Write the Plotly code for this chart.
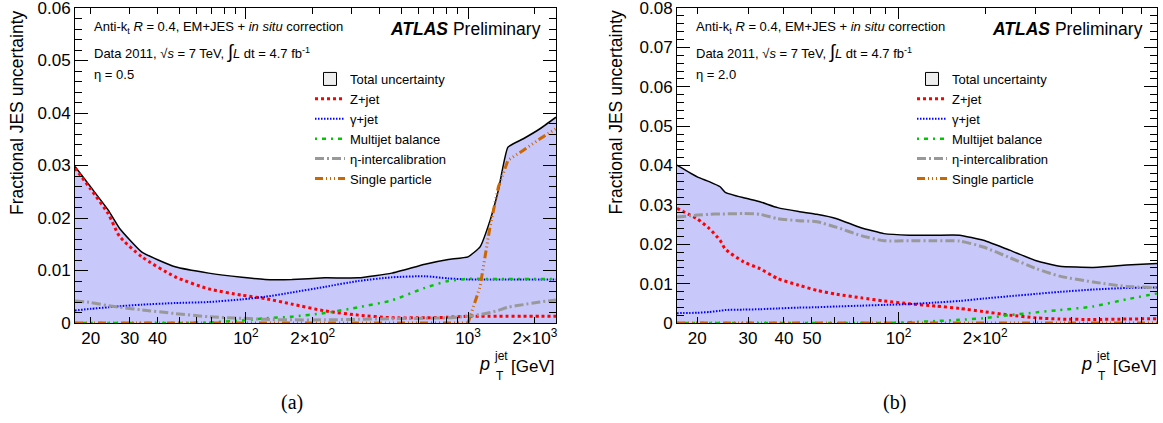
import math
import plotly.graph_objects as go

W, H = 1163, 423

# ---------------- data: panel (a) eta = 0.5 ----------------
pt_a = [17, 20, 24, 27, 34, 48, 68, 96, 122, 161, 227, 321, 453, 640, 815,
        1000, 1133, 1256, 1370, 1513, 1775, 2109, 2490]
total_a = [0.0298, 0.0259, 0.0215, 0.0180, 0.0135, 0.0107, 0.0095, 0.0087, 0.0083,
           0.0083, 0.0086, 0.0086, 0.0095, 0.0112, 0.0121, 0.0126, 0.0145, 0.0195,
           0.0253, 0.0335, 0.0351, 0.0370, 0.0392]
zjet_a = [0.0295, 0.0255, 0.0208, 0.0165, 0.0126, 0.0088, 0.0065, 0.0053, 0.00465,
          0.0036, 0.0023, 0.0015, 0.0010, 0.0010, 0.0011, 0.0013, 0.0013, 0.0013,
          0.0013, 0.0013, 0.0013, 0.0013, 0.0013]
gjet_a = [0.0024, 0.0027, 0.0030, 0.0032, 0.0035, 0.0038, 0.0040, 0.0045, 0.0050,
          0.0058, 0.0069, 0.0080, 0.0087, 0.0089, 0.0085, 0.0083, 0.0083, 0.0083,
          0.0083, 0.0083, 0.0083, 0.0083, 0.0083]
mj_a = [0, 0, 0, 0, 0, 0, 0.0001, 0.0005, 0.0009, 0.0012, 0.0019, 0.0030, 0.0043,
        0.0067, 0.0080, 0.0084, 0.0084, 0.0084, 0.0084, 0.0084, 0.0084, 0.0084, 0.0084]
eta_a = [0.0042, 0.0039, 0.0033, 0.0030, 0.0025, 0.0018, 0.0012, 0.0009, 0.0007,
         0.0006, 0.0006, 0.0007, 0.0008, 0.0009, 0.0010, 0.0013, 0.0016, 0.0020,
         0.0024, 0.0030, 0.0035, 0.0040, 0.0044]
sp_a = [0, 0, 0, 0, 0, 0, 0, 0, 0, 0, 0, 0, 0, 0, 0, 0, 0.0069, 0.0183, 0.0259,
        0.0310, 0.0329, 0.0351, 0.0370]

# ---------------- data: panel (b) eta = 2.0 ----------------
pt_b = [17, 20, 22, 24, 25, 29, 33, 38, 45, 52, 61, 74, 89, 109, 135, 163, 197,
        243, 301, 363, 474, 619, 790]
total_b = [0.0401, 0.0371, 0.0359, 0.0346, 0.0332, 0.0318, 0.0308, 0.0293, 0.0283,
           0.0276, 0.0265, 0.0242, 0.0227, 0.0223, 0.0223, 0.0223, 0.0210, 0.0185,
           0.0158, 0.0144, 0.0141, 0.0147, 0.0151]
zjet_b = [0.0291, 0.0264, 0.0240, 0.0210, 0.0188, 0.0155, 0.0138, 0.0113, 0.0096,
          0.0083, 0.0073, 0.0064, 0.0056, 0.0049, 0.0043, 0.0037, 0.0029, 0.0020,
          0.0013, 0.0010, 0.0009, 0.0010, 0.0011]
gjet_b = [0.0025, 0.0026, 0.0028, 0.0031, 0.0033, 0.0034, 0.0035, 0.0037, 0.0039,
          0.0040, 0.0042, 0.0044, 0.0046, 0.0048, 0.0052, 0.0056, 0.0062, 0.0068,
          0.0074, 0.0079, 0.0085, 0.0089, 0.0090]
mj_b = [0, 0, 0, 0, 0, 0, 0, 0, 0, 0, 0, 0, 0, 0.0002, 0.0005, 0.0008, 0.0012,
        0.0020, 0.0027, 0.0033, 0.0042, 0.0060, 0.0075]
eta_b = [0.0269, 0.0274, 0.0276, 0.0277, 0.0277, 0.0278, 0.0276, 0.0265, 0.0260,
         0.0257, 0.0243, 0.0222, 0.0209, 0.0209, 0.0209, 0.0208, 0.0193, 0.0166,
         0.0138, 0.0119, 0.0104, 0.0093, 0.0090]
sp_b = [0] * len(pt_b)

# tick labels
tickvals_a = [20, 30, 40, 50, 60, 70, 80, 90, 100, 200, 300, 400, 500, 600, 700, 800, 900, 1000, 2000]
ticktext_a = ["20", "30", "40", "", "", "", "", "", "10<sup>2</sup>", "2×10<sup>2</sup>",
              "", "", "", "", "", "", "", "10<sup>3</sup>", "2×10<sup>3</sup>"]
tickvals_b = [20, 30, 40, 50, 60, 70, 80, 90, 100, 200, 300, 400, 500, 600, 700]
ticktext_b = ["20", "30", "40", "50", "", "", "", "", "10<sup>2</sup>", "2×10<sup>2</sup>",
              "", "", "", "", ""]
decades = [100, 1000]

series_names = ["Z+jet", "γ+jet", "Multijet balance", "η-intercalibration", "Single particle"]
styles = [
    dict(color="#ff0000", width=3, dash="3px,3px"),
    dict(color="#0000ff", width=2, dash="1.5px,1.5px"),
    dict(color="#00c800", width=2.5, dash="2px,5px,4px,5px"),
    dict(color="#999999", width=3, dash="9px,3px,2px,3px"),
    dict(color="#cc6600", width=3, dash="8px,3px,1px,3px,1px,3px,1px,3px"),
]

FONT = "Liberation Sans, Arial, Helvetica, sans-serif"

fig = go.Figure()

def add_panel(xs, total, comps, xa, ya, legend):
    # legend-only entry for the total band (grey box in legend)
    fig.add_trace(go.Scatter(x=[None], y=[None], mode="markers",
                             marker=dict(symbol="square", size=13, color="#eeeeee",
                                         line=dict(color="black", width=1)),
                             name="Total uncertainty", xaxis=xa, yaxis=ya,
                             legend=legend, showlegend=True))
    fig.add_trace(go.Scatter(x=xs, y=total, mode="lines", fill="tozeroy",
                             fillcolor="rgb(200,200,250)",
                             line=dict(color="black", width=1.5, shape="spline", smoothing=0.4),
                             showlegend=False, xaxis=xa, yaxis=ya, hoverinfo="skip"))
    for name, st, ys in zip(series_names, styles, comps):
        shape = "linear" if name == "Single particle" else "spline"
        fig.add_trace(go.Scatter(x=xs, y=ys, mode="lines", name=name,
                                 line=dict(color=st["color"], width=st["width"],
                                           dash=st["dash"], shape=shape, smoothing=0.6),
                                 xaxis=xa, yaxis=ya, legend=legend))

add_panel(pt_a, total_a, [zjet_a, gjet_a, mj_a, eta_a, sp_a], "x", "y", "legend")
add_panel(pt_b, total_b, [zjet_b, gjet_b, mj_b, eta_b, sp_b], "x2", "y2", "legend2")

def fx(p):
    return p / W

def fy(p):
    return 1 - p / H

ytop, ybot = fy(8), fy(323)
dom_a = [fx(75), fx(556)]
dom_b = [fx(677), fx(1157)]

xcommon = dict(type="log", showline=True, linecolor="black", linewidth=1, mirror="ticks",
               ticks="inside", ticklen=6, tickcolor="black", tickwidth=1, showgrid=False,
               zeroline=False, tickmode="array", automargin=False, ticklabeloverflow="allow",
               tickfont=dict(family=FONT, size=17, color="black"))
ycommon = dict(showline=True, linecolor="black", linewidth=1, mirror="ticks",
               ticks="inside", ticklen=13, tickcolor="black", tickwidth=1, showgrid=False,
               zeroline=False, dtick=0.01, tick0=0, automargin=False, ticklabeloverflow="allow",
               minor=dict(dtick=0.002, ticklen=7, ticks="inside", tickcolor="black", showgrid=False),
               tickfont=dict(family=FONT, size=17, color="black"))

fig.update_layout(
    width=W, height=H, margin=dict(l=0, r=0, t=0, b=0, autoexpand=False),
    paper_bgcolor="white", plot_bgcolor="white",
    font=dict(family=FONT, color="black"),
    xaxis=dict(**xcommon, domain=dom_a, anchor="y",
               range=[math.log10(17), math.log10(2490)],
               tickvals=tickvals_a, ticktext=ticktext_a),
    yaxis=dict(**ycommon, domain=[ybot, ytop], anchor="x", range=[0, 0.0600001]),
    xaxis2=dict(**xcommon, domain=dom_b, anchor="y2",
                range=[math.log10(17), math.log10(790)],
                tickvals=tickvals_b, ticktext=ticktext_b),
    yaxis2=dict(**ycommon, domain=[ybot, ytop], anchor="x2", range=[0, 0.0800001]),
    # overlay axes for the longer decade ticks
    xaxis3=dict(type="log", overlaying="x", matches="x", anchor="y", ticks="inside",
                ticklen=11, tickcolor="black", mirror="ticks", showline=False,
                showgrid=False, zeroline=False, showticklabels=False, automargin=False,
                tickmode="array", tickvals=decades),
    xaxis4=dict(type="log", overlaying="x2", matches="x2", anchor="y2", ticks="inside",
                ticklen=11, tickcolor="black", mirror="ticks", showline=False,
                showgrid=False, zeroline=False, showticklabels=False, automargin=False,
                tickmode="array", tickvals=decades),
    legend=dict(x=fx(310), y=fy(64), xanchor="left", yanchor="top",
                bgcolor="rgba(0,0,0,0)", font=dict(family=FONT, size=13, color="black"),
                traceorder="normal", itemwidth=30),
    legend2=dict(x=fx(912), y=fy(64), xanchor="left", yanchor="top",
                 bgcolor="rgba(0,0,0,0)", font=dict(family=FONT, size=13, color="black"),
                 traceorder="normal", itemwidth=30),
)

# dummy traces so the overlay axes are drawn
fig.add_trace(go.Scatter(x=[None], y=[None], xaxis="x3", yaxis="y", showlegend=False))
fig.add_trace(go.Scatter(x=[None], y=[None], xaxis="x4", yaxis="y2", showlegend=False))

ann = []

def text(x, y, t, size=13, xanchor="left", yanchor="middle", family=FONT, angle=0):
    ann.append(dict(x=fx(x), y=fy(y), xref="paper", yref="paper", text=t, showarrow=False,
                    xanchor=xanchor, yanchor=yanchor, textangle=angle,
                    font=dict(family=family, size=size, color="black")))

for dx, eta_lbl, panel_lbl, ytitle_x in [(0, "η = 0.5", "(a)", 16.5), (602, "η = 2.0", "(b)", 615)]:
    text(92 + dx, 28, "Anti-k<sub>t</sub> <i>R</i> = 0.4, EM+JES + <i>in situ</i> correction")
    text(92 + dx, 52, "Data 2011, √<i>s</i> = 7 TeV, <span style='font-size:19px'>∫</span><i>L</i> dt = 4.7 fb<sup>-1</sup>")
    text(92 + dx, 74, eta_lbl)
    text(543 + dx, 29, "<b><i>ATLAS</i></b> Preliminary", size=17.5, xanchor="right")
    text(556 + dx, 366, "[GeV]", size=17, xanchor="right")
    text(492 + dx, 364, "<i>p</i>", size=18, xanchor="right")
    text(492 + dx, 356, "jet", size=12)
    text(494 + dx, 376, "T", size=12)
    text(292 + dx, 402, panel_lbl, size=20, xanchor="center",
         family="Liberation Serif, Times New Roman, serif")
    text(ytitle_x, 8, "Fractional JES uncertainty", size=17.5, xanchor="center",
         yanchor="top", angle=-90)

fig.update_layout(annotations=ann)

fig.write_html("out.html")
